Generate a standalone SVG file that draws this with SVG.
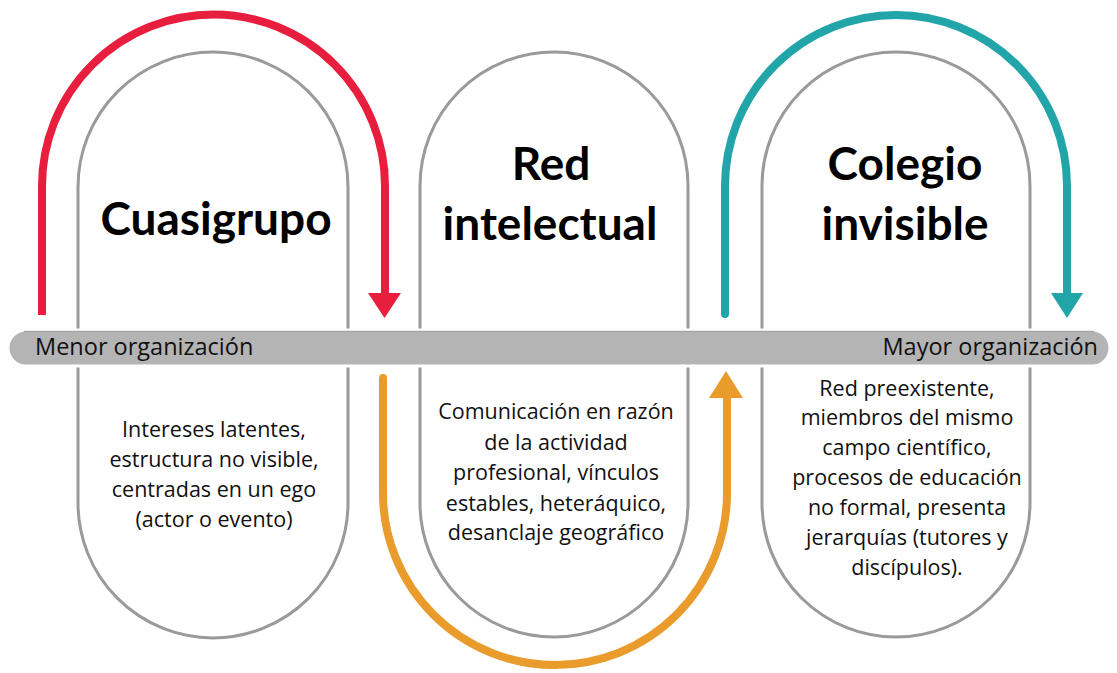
<svg xmlns="http://www.w3.org/2000/svg" width="1117" height="673" viewBox="0 0 1117 673">
<style>
.pill{fill:#fff;stroke:#9a9a9a;stroke-width:3}
.title{font-family:Lato,"Liberation Sans",sans-serif;font-weight:bold;font-size:46px;fill:#000;text-anchor:middle}
.body{font-family:"Open Sans","Liberation Sans",sans-serif;font-size:21.5px;fill:#111;text-anchor:middle}
.bar{font-family:"Open Sans","Liberation Sans",sans-serif;font-size:23.5px;fill:#111}
.arc{fill:none;stroke-width:8}
</style>
<rect width="1117" height="673" fill="#fff"/>
<g id="node-cuasigrupo">
<path class="pill" d="M78,187 A135,135 0 0 1 348,187 L348,503 A135,135 0 0 1 78,503 Z"/>
<text class="title" x="216" y="235">Cuasigrupo</text>
<text class="body"><tspan x="214" y="437">Intereses latentes,</tspan><tspan x="214" y="467">estructura no visible,</tspan><tspan x="214" y="497">centradas en un ego</tspan><tspan x="214" y="527">(actor o evento)</tspan></text>
</g>
<g id="node-red-intelectual">
<path class="pill" d="M420,186 A134,134 0 0 1 688,186 L688,503 A134,134 0 0 1 420,503 Z"/>
<text class="title" x="551" y="180">Red</text>
<text class="title" x="550" y="240">intelectual</text>
<text class="body"><tspan x="556" y="419">Comunicación en razón</tspan><tspan x="556" y="450">de la actividad</tspan><tspan x="556" y="480">profesional, vínculos</tspan><tspan x="556" y="511">estables, heteráquico,</tspan><tspan x="556" y="540">desanclaje geográfico</tspan></text>
</g>
<g id="node-colegio-invisible">
<path class="pill" d="M762,186 A134,134 0 0 1 1030,186 L1030,503 A134,134 0 0 1 762,503 Z"/>
<text class="title" x="905" y="180">Colegio</text>
<text class="title" x="905" y="240">invisible</text>
<text class="body"><tspan x="907" y="396">Red preexistente,</tspan><tspan x="907" y="425">miembros del mismo</tspan><tspan x="907" y="455">campo científico,</tspan><tspan x="907" y="485">procesos de educación</tspan><tspan x="907" y="515">no formal, presenta</tspan><tspan x="907" y="545">jerarquías (tutores y</tspan><tspan x="907" y="575">discípulos).</tspan></text>
</g>
<g id="axis">
<rect x="8" y="330" width="1102" height="36" rx="18" fill="#b4b4b4" stroke="#fff" stroke-width="3"/>
<line x1="24" y1="331.5" x2="1094" y2="331.5" stroke="#a6a6a6" stroke-width="1.5"/>
<text class="bar" x="35" y="355">Menor organización</text>
<text class="bar" x="1098" y="355" text-anchor="end">Mayor organización</text>
</g>
<g id="connectors">
<path class="arc" stroke="#e81e3e" d="M42,315 L42,186 A171.5,171.5 0 0 1 385,186 L385,296"/>
<polygon fill="#e81e3e" points="368,293 401,293 384.5,318"/>
<path class="arc" stroke="#e99b2c" stroke-linecap="round" d="M383,378 L383,493 A172,172 0 0 0 727,493 L727,396"/>
<polygon fill="#e99b2c" points="709,398 743,398 726,371"/>
<path class="arc" stroke="#22a5a8" stroke-linecap="round" d="M725,314 L725,186 A171,171 0 0 1 1067,186 L1067,296"/>
<polygon fill="#22a5a8" points="1051,293 1083,293 1067,318"/>
</g>
</svg>
